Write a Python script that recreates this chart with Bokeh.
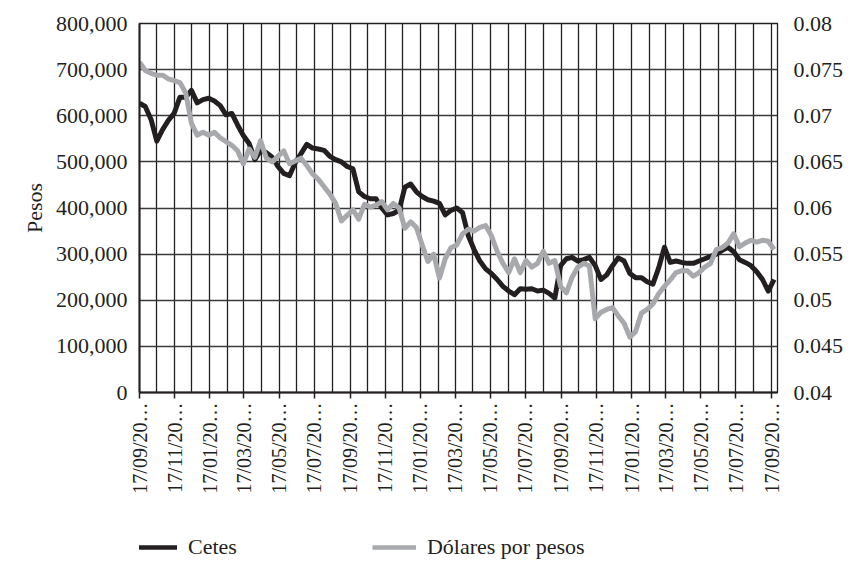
import numpy as np
import pandas as pd
from bokeh.plotting import figure
from bokeh.layouts import column
from bokeh.models import (Range1d, LinearAxis, FixedTicker, DatetimeTickFormatter,
                          NumeralTickFormatter, Legend, LegendItem, ColumnDataSource)
from bokeh.embed import file_html
from bokeh.resources import INLINE

# ---- data (sampled every 10 days from 17/09/2014) ----
start_date = "2014-09-17"
step_days = 10
cetes = [627000, 620000, 592000, 545000, 570000, 590000, 605000, 640000, 640000, 655000,
         628000, 635000, 638000, 632000, 622000, 602000, 605000, 580000, 557000, 540000,
         505000, 525000, 520000, 510000, 490000, 475000, 470000, 498000, 518000, 538000,
         530000, 528000, 525000, 512000, 505000, 500000, 490000, 485000, 435000, 425000,
         420000, 420000, 400000, 385000, 388000, 395000, 445000, 452000, 435000, 425000,
         418000, 415000, 410000, 385000, 395000, 400000, 390000, 340000, 310000, 285000,
         268000, 258000, 245000, 230000, 220000, 212000, 225000, 224000, 225000, 220000,
         222000, 215000, 205000, 275000, 290000, 293000, 285000, 288000, 293000, 275000,
         245000, 255000, 275000, 292000, 285000, 258000, 249000, 249000, 240000, 235000,
         270000, 315000, 282000, 285000, 282000, 280000, 280000, 285000, 290000, 295000,
         300000, 308000, 315000, 305000, 288000, 282000, 275000, 262000, 245000, 220000,
         245000]
dolares = [0.0758, 0.0749, 0.0746, 0.0744, 0.0744, 0.0740, 0.0738, 0.0736, 0.0725, 0.0692,
           0.0679, 0.0682, 0.0679, 0.0682, 0.0676, 0.0672, 0.0668, 0.0662, 0.0648, 0.0664,
           0.0655, 0.0673, 0.0654, 0.0650, 0.0656, 0.0662, 0.0648, 0.0651, 0.0654, 0.0646,
           0.0637, 0.0631, 0.0623, 0.0615, 0.0605, 0.0586, 0.0592, 0.0598, 0.0588, 0.0604,
           0.0601, 0.0603, 0.0607, 0.0598, 0.0605, 0.0600, 0.0578, 0.0585, 0.0579, 0.0560,
           0.0542, 0.0550, 0.0524, 0.0545, 0.0557, 0.0560, 0.0572, 0.0577, 0.0575, 0.0579,
           0.0581, 0.0570, 0.0553, 0.0540, 0.0530, 0.0545, 0.0530, 0.0543, 0.0536, 0.0540,
           0.0553, 0.0540, 0.0543, 0.0515, 0.0508, 0.0525, 0.0536, 0.0540, 0.0537, 0.0480,
           0.0487, 0.0490, 0.0492, 0.0483, 0.0475, 0.0460, 0.0466, 0.0486, 0.0490, 0.0496,
           0.0507, 0.0515, 0.0522, 0.0530, 0.0532, 0.0532, 0.0526, 0.0530, 0.0536, 0.0540,
           0.0555, 0.0557, 0.0562, 0.0572, 0.0558, 0.0562, 0.0565, 0.0563, 0.0565, 0.0564,
           0.0555]
series_names = ["Cetes", "Dólares por pesos"]
left_ticks = [0, 100000, 200000, 300000, 400000, 500000, 600000, 700000, 800000]
right_ticks = [0.04, 0.045, 0.05, 0.055, 0.06, 0.065, 0.07, 0.075, 0.08]
x_end_date = "2017-09-27"

start = pd.Timestamp(start_date)
dates = start + pd.to_timedelta(np.arange(len(cetes)) * step_days, unit="D")
src = ColumnDataSource(dict(x=dates, cetes=cetes, dolares=dolares))

def ms(ts):
    return ts.value / 1e6

month_ticks = [ms(start + pd.DateOffset(months=k)) for k in range(0, 37)]
label_ticks = month_ticks[::2]

TXT = "#231f20"
GRAY = "#a7a9ac"
FONT = "Liberation Serif"
FS = "22px"

p = figure(width=846, height=518, x_axis_type="datetime", output_backend="svg",
           toolbar_location=None, y_range=Range1d(0, 800000),
           x_range=Range1d(ms(start), ms(pd.Timestamp(x_end_date))),
           min_border_left=139, min_border_right=65, min_border_top=23,
           min_border_bottom=126)
p.extra_y_ranges = {"usd": Range1d(0.04, 0.08)}

# axes
xa = p.xaxis[0]
xa.ticker = FixedTicker(ticks=label_ticks)
xa.formatter = DatetimeTickFormatter(days="%d/%m/20…", months="%d/%m/20…", years="%d/%m/20…",
                                     hours="%d/%m/20…", minutes="%d/%m/20…")
xa.major_label_orientation = np.pi / 2
xa.major_tick_out = 6
xa.major_tick_in = 0
xa.minor_tick_out = 0
xa.minor_tick_in = 0
xa.axis_line_width = 2
xa.axis_line_color = TXT
xa.major_tick_line_color = TXT
xa.major_tick_line_width = 1.5
xa.major_label_standoff = 4
xa.major_label_text_font = FONT
xa.major_label_text_font_size = "20px"
xa.major_label_text_color = TXT

ya = p.yaxis[0]
ya.ticker = FixedTicker(ticks=left_ticks)
ya.formatter = NumeralTickFormatter(format="0,0")
ya.major_tick_out = 0
ya.major_tick_in = 0
ya.minor_tick_out = 0
ya.minor_tick_in = 0
ya.axis_line_width = 2
ya.axis_line_color = TXT
ya.major_label_standoff = 12
ya.major_label_text_font = FONT
ya.major_label_text_font_size = FS
ya.major_label_text_color = TXT
ya.axis_label = "Pesos"
ya.axis_label_text_font = FONT
ya.axis_label_text_font_size = FS
ya.axis_label_text_font_style = "normal"
ya.axis_label_text_color = TXT
ya.axis_label_standoff = 6

ra = LinearAxis(y_range_name="usd", ticker=FixedTicker(ticks=right_ticks),
                formatter=NumeralTickFormatter(format="0.[000]"))
ra.major_tick_out = 0
ra.major_tick_in = 0
ra.minor_tick_out = 0
ra.minor_tick_in = 0
ra.axis_line_color = TXT
ra.axis_line_width = 1
ra.major_label_standoff = 16
ra.major_label_text_font = FONT
ra.major_label_text_font_size = FS
ra.major_label_text_color = TXT
p.add_layout(ra, "right")

# grids
p.xgrid.ticker = FixedTicker(ticks=month_ticks)
p.xgrid.grid_line_color = TXT
p.xgrid.grid_line_width = 1.3
p.ygrid.ticker = FixedTicker(ticks=left_ticks)
p.ygrid.grid_line_color = "#3a3a3a"
p.ygrid.grid_line_width = 1.3

p.outline_line_color = TXT
p.outline_line_width = 1.3
p.background_fill_color = "white"
p.border_fill_color = "white"

p.line("x", "cetes", source=src, line_color=TXT, line_width=5, line_join="round")
p.line("x", "dolares", source=src, y_range_name="usd", line_color=GRAY,
       line_width=5, line_join="round")

# ---- legend strip below the chart ----
lf = figure(width=846, height=42, output_backend="svg", toolbar_location=None,
            x_range=Range1d(0, 1), y_range=Range1d(0, 1),
            min_border_left=0, min_border_right=0, min_border_top=0, min_border_bottom=0)
lf.axis.visible = False
lf.grid.visible = False
lf.outline_line_color = None
lr1 = lf.line("x", "cetes", source=src, line_color=TXT, line_width=4.5, visible=False)
lr2 = lf.line("x", "dolares", source=src, line_color=GRAY, line_width=4.5, visible=False)
legend = Legend(items=[LegendItem(label=series_names[0], renderers=[lr1]),
                       LegendItem(label=series_names[1], renderers=[lr2])],
                orientation="horizontal", location=(-6, 0),
                glyph_width=44, glyph_height=20, label_standoff=11, spacing=135,
                padding=0, margin=0, border_line_color=None, background_fill_alpha=0,
                inactive_fill_alpha=0,
                label_text_font=FONT, label_text_font_size=FS, label_text_color=TXT)
lf.add_layout(legend, "center")

layout = column(p, lf, spacing=0)
open("out.html", "w").write(file_html(layout, INLINE))
